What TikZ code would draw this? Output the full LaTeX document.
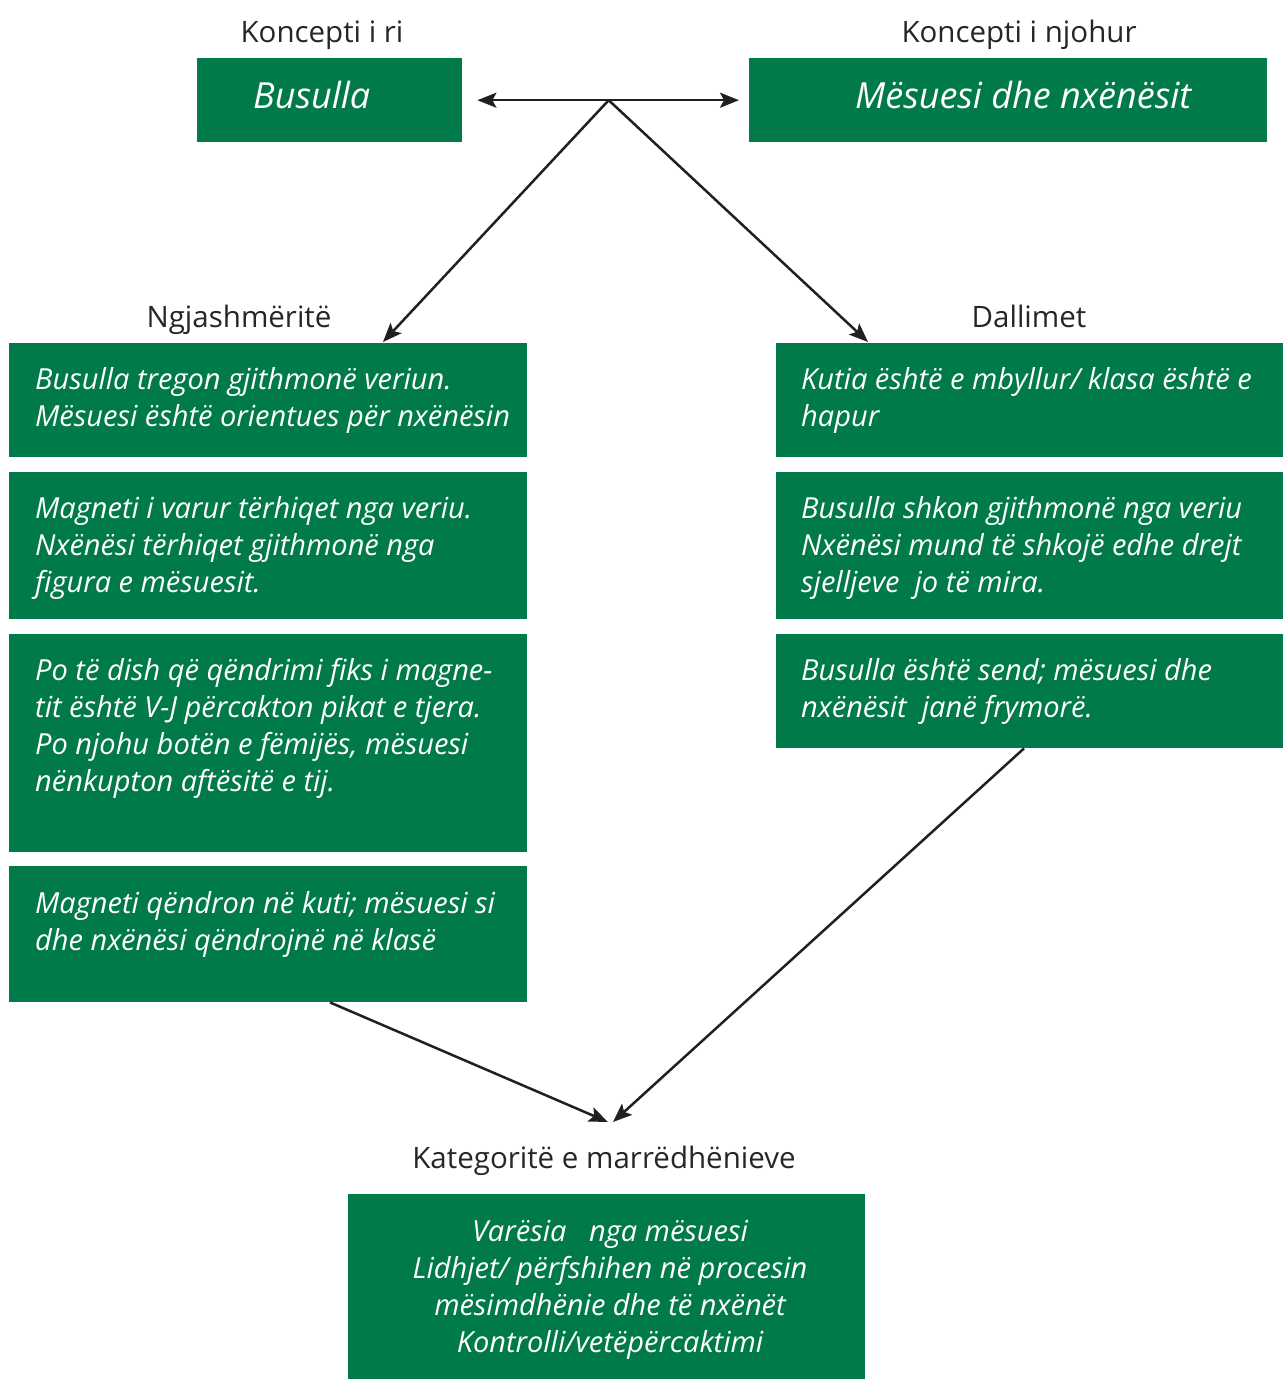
\documentclass[tikz,border=0pt]{standalone}
\usepackage{fontspec}
\setmainfont{Open Sans}
\usetikzlibrary{arrows.meta,calc}
\definecolor{boxgreen}{HTML}{007A48}
\definecolor{arrowblack}{HTML}{231F20}
\begin{document}
\begin{tikzpicture}[x=1pt,y=-1pt,
  box/.style={fill=boxgreen,draw=none,inner sep=0pt,anchor=north west},
  txt/.style={text=white,inner sep=0pt,anchor=base west,align=left,
    font=\fontsize{29}{37}\selectfont\itshape},
  ctxt/.style={text=white,inner sep=0pt,anchor=base,align=center,
    font=\fontsize{29}{37}\selectfont\itshape},
  big/.style={text=white,inner sep=0pt,anchor=base west,
    font=\fontsize{36}{40}\selectfont\itshape},
  lbl/.style={text=black!85,inner sep=0pt,anchor=base,
    font=\fontsize{29.5}{32}\selectfont},
  conn/.style={draw=arrowblack,line width=2.5pt,
    -{Stealth[length=19pt,width=15pt,inset=4pt]}},
  link/.style={draw=arrowblack,line width=2.5pt}
]
\useasboundingbox (0,0) rectangle (1283,1380);

% top boxes
\node[box,minimum width=265,minimum height=84] (bus) at (197,58) {};
\node[big] (bust) at (253,109) {Busulla};
\node[box,minimum width=518,minimum height=84] (mes) at (749,58) {};
\node[big] (mest) at (855,109) {Mësuesi dhe nxënësit};
\node[lbl] (kri) at (322,43) {Koncepti i ri};
\node[lbl] (knj) at (1019,43) {Koncepti i njohur};

% left column (anchor = baseline of last line)
\node[lbl] (ngj) at (239,327) {Ngjashmëritë};
\node[box,minimum width=518,minimum height=114] (l1) at (9,343) {};
\node[txt] (l1t) at (35,426) {Busulla tregon gjithmonë veriun.\\Mësuesi është orientues për nxënësin};
\node[box,minimum width=518,minimum height=147] (l2) at (9,472) {};
\node[txt] (l2t) at (35,592) {Magneti i varur tërhiqet nga veriu.\\Nxënësi tërhiqet gjithmonë nga\\figura e mësuesit.};
\node[box,minimum width=518,minimum height=218] (l3) at (9,634) {};
\node[txt] (l3t) at (35,791) {Po të dish që qëndrimi fiks i magne-\\tit është V-J përcakton pikat e tjera.\\Po njohu botën e fëmijës, mësuesi\\nënkupton aftësitë e tij.};
\node[box,minimum width=518,minimum height=136] (l4) at (9,866) {};
\node[txt] (l4t) at (35,950) {Magneti qëndron në kuti; mësuesi si\\dhe nxënësi qëndrojnë në klasë};

% right column
\node[lbl] (dal) at (1029,327) {Dallimet};
\node[box,minimum width=507,minimum height=114] (r1) at (776,343) {};
\node[txt] (r1t) at (801,426) {Kutia është e mbyllur/ klasa është e\\hapur};
\node[box,minimum width=507,minimum height=147] (r2) at (776,472) {};
\node[txt] (r2t) at (801,592) {Busulla shkon gjithmonë nga veriu\\Nxënësi mund të shkojë edhe drejt\\sjelljeve\ \ jo të mira.};
\node[box,minimum width=507,minimum height=114] (r3) at (776,634) {};
\node[txt] (r3t) at (801,717) {Busulla është send; mësuesi dhe\\nxënësit\ \ janë frymorë.};

% bottom
\node[lbl] (kat) at (604,1168) {Kategoritë e marrëdhënieve};
\node[box,minimum width=517,minimum height=185] (bot) at (348,1194) {};
\node[ctxt] (bott) at (610,1352) {Varësia\ \ \ nga mësuesi\\Lidhjet/ përfshihen në procesin\\mësimdhënie dhe të nxënët\\Kontrolli/vetëpërcaktimi};

% connectors
\coordinate (hub) at ($(bus.east)!0.5!(mes.west)+(3,0)$);
\draw[link,{Stealth[length=19pt,width=15pt,inset=4pt]}-{Stealth[length=19pt,width=15pt,inset=4pt]},shorten <=15pt,shorten >=10pt] (bus.east) -- (mes.west);
\draw[conn] (hub) -- ([xshift=374pt,yshift=1pt]l1.north west);
\draw[conn] (hub) -- ([xshift=92pt,yshift=1pt]r1.north west);
\coordinate (ktip) at (608,1122);
\draw[conn] ([xshift=321pt]l4.south west) -- (ktip);
\draw[conn] ([xshift=248pt]r3.south west) -- ([xshift=5pt]ktip);
\end{tikzpicture}
\end{document}
